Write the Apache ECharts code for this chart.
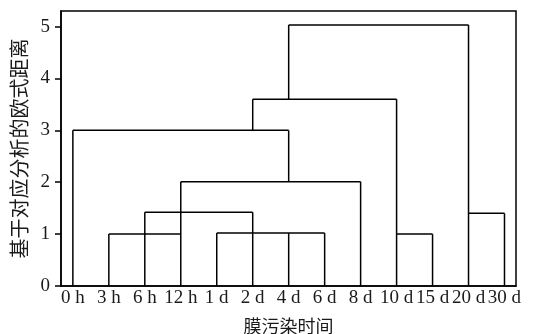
<!DOCTYPE html>
<html>
<head>
<meta charset="utf-8">
<script src="https://cdn.jsdelivr.net/npm/echarts@6/dist/echarts.min.js"></script>
<style>
    html, body { margin: 0; padding: 0; background: #fff; }
    #main { width: 534px; height: 334px; }
</style>
</head>
<body>
<div id="main"></div>
<script>
// 叶节点（膜污染时间）
var leaves = ['0 h', '3 h', '6 h', '12 h', '1 d', '2 d', '4 d', '6 d', '8 d', '10 d', '15 d', '20 d', '30 d'];
var yTicks = [0, 1, 2, 3, 4, 5];

// 横线：左叶、右叶、高度
var barLeft   = [1, 4, 9, 2, 11, 3, 0, 5, 6];
var barRight  = [3, 7, 10, 5, 12, 8, 6, 9, 11];
var barHeight = [1.0, 1.02, 1.0, 1.42, 1.4, 2.01, 3.0, 3.6, 5.03];

// 竖线：叶、起点高度、终点高度
var stemLeaf = [0, 1, 2, 3, 4, 5, 5, 6, 6, 6, 7, 8, 9, 10, 11, 12];
var stemFrom = [0, 0, 0, 0, 0, 0, 3.0, 0, 2.01, 3.6, 0, 0, 0, 0, 0, 0];
var stemTo   = [3.0, 1.0, 1.42, 2.01, 1.02, 1.42, 3.6, 1.02, 3.0, 5.03, 1.02, 2.01, 3.6, 1.0, 5.03, 1.4];

var segs = [];
barLeft.forEach(function (l, i) {
    segs.push([l, barHeight[i], barRight[i], barHeight[i]]);
});
stemLeaf.forEach(function (x, i) {
    segs.push([x, stemFrom[i], x, stemTo[i]]);
});

var myChart = echarts.init(document.getElementById('main'));
var textColor = '#1a1a1a';
var serif = '"Liberation Serif", "Times New Roman", serif';
var cjk = '"Noto Sans CJK SC", sans-serif';

var option = {
    backgroundColor: '#fff',
    animation: false,
    grid: {
        left: 61, right: 18, top: 11, bottom: 48,
        outerBoundsMode: 'none',
        show: true,
        borderColor: '#000',
        borderWidth: 1.5
    },
    xAxis: {
        type: 'value',
        min: -0.33,
        max: 12.32,
        name: '膜污染时间',
        nameLocation: 'middle',
        nameGap: 31,
        nameTextStyle: { color: textColor, fontSize: 18, fontFamily: cjk },
        axisLine: { onZero: false, lineStyle: { color: '#000', width: 1.5 } },
        axisTick: { show: false },
        splitLine: { show: false },
        axisLabel: {
            customValues: leaves.map(function (d, i) { return i; }),
            formatter: function (v) { return leaves[Math.round(v)]; },
            color: textColor,
            fontSize: 19,
            fontFamily: serif,
            margin: 3
        }
    },
    yAxis: {
        type: 'value',
        min: 0,
        max: 5.3,
        name: '基于对应分析的欧式距离',
        nameLocation: 'middle',
        nameGap: 28,
        nameTextStyle: { color: textColor, fontSize: 20, fontFamily: cjk },
        axisLine: { onZero: false, lineStyle: { color: '#000', width: 1.5 } },
        axisTick: { customValues: yTicks, length: 6, lineStyle: { color: '#000', width: 1.5 } },
        splitLine: { show: false },
        axisLabel: {
            customValues: yTicks,
            color: textColor,
            fontSize: 19,
            fontFamily: serif,
            margin: 11
        }
    },
    series: [{
        type: 'custom',
        data: segs,
        encode: { x: [0, 2], y: [1, 3] },
        renderItem: function (params, api) {
            var p1 = api.coord([api.value(0), api.value(1)]);
            var p2 = api.coord([api.value(2), api.value(3)]);
            return {
                type: 'line',
                shape: { x1: p1[0], y1: p1[1], x2: p2[0], y2: p2[1] },
                style: { stroke: '#000', lineWidth: 1.5 }
            };
        }
    }]
};
myChart.setOption(option);
</script>
</body>
</html>
